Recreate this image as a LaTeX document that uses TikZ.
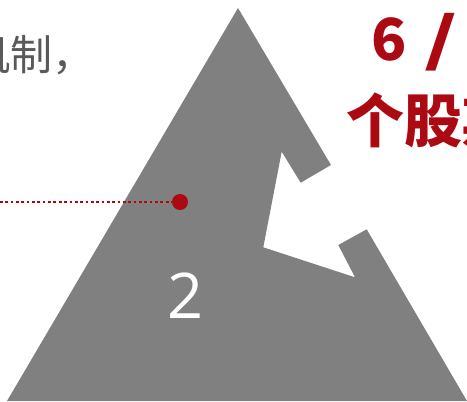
\documentclass[tikz,border=0pt]{standalone}
\usepackage{fontspec}
\usepackage{graphicx}
\newfontfamily\cjk{Noto Sans CJK SC}
\newfontfamily\digitfont{Open Sans}
\definecolor{tri}{HTML}{808080}
\definecolor{hired}{HTML}{AC0A12}
\definecolor{txtgray}{HTML}{595959}
\begin{document}
\begin{tikzpicture}[x=1pt,y=-1pt,
  graytext/.style={font=\cjk\fontsize{42}{42}\selectfont, text=txtgray, inner sep=0pt},
  redtext/.style={font=\cjk\bfseries\fontsize{58}{58}\selectfont, text=hired, inner sep=0pt},
  leader/.style={draw=hired, line width=2.4pt, dash pattern=on 2.7pt off 2.65pt},
  marker/.style={circle, fill=hired, minimum size=16pt, inner sep=0pt},
  numlabel/.style={font=\digitfont\fontsize{63}{63}\selectfont, text=white, inner sep=0pt}]
\useasboundingbox (0,0) rectangle (467,402);
\fill[tri] (238,8) -- (331,165) -- (300.7,182.7) -- (281.7,151.7) -- (263.3,247.3)
  -- (355,277.3) -- (338.3,245) -- (366.7,229.3) -- (467,401) -- (7,401) -- cycle;
\node[graytext, anchor=base east] (g) at (95,70) {机制，};
\node[redtext, anchor=base west] (r1) at (371,60) {6\hspace{18pt}\scalebox{1.5}[1]{/}\hspace{15pt}3};
\node[redtext, anchor=base west] (r2) at (346,142) {个股期};
\coordinate (lstart) at (0,202);
\node[marker] (dot) at (180,202) {};
\draw[leader] (lstart) -- (dot.west);
\node[numlabel] (two) at (186,296) {2};
\end{tikzpicture}
\end{document}
